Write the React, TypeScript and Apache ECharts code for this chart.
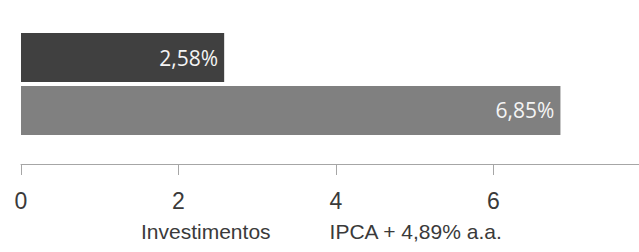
import React, { useEffect, useRef } from "react";
import * as echarts from "echarts";

const categories = ["Rentabilidade"];
const seriesNames = ["Investimentos", "IPCA + 4,89% a.a."];
const investimentos = [2.58];
const ipca = [6.85];
const xTicks = [0, 2, 4, 6, 8];

const fmt = (v: number) => v.toFixed(2).replace(".", ",") + "%";

export default function App() {
  const ref = useRef<HTMLDivElement>(null);
  useEffect(() => {
    document.body.style.overflow = "hidden";
    if (!ref.current) return;
    const chart = echarts.init(ref.current, null, { renderer: "svg" });
    const label = {
      show: true,
      position: "insideRight",
      distance: 6,
      color: "#f4f4f4",
      fontFamily: "Open Sans, Noto Sans, sans-serif",
      fontSize: 21,
      formatter: (p: any) => fmt(p.value),
    };
    chart.setOption({
      animation: false,
      grid: { left: 21, right: 9, top: 4, bottom: 88, containLabel: false },
      legend: {
        bottom: 5,
        left: 131,
        icon: "rect",
        itemWidth: 0,
        itemHeight: 0,
        itemGap: 54,
        textStyle: { fontFamily: "Liberation Sans, Arial, sans-serif", fontSize: 21, color: "#3a3a3a" },
        data: seriesNames,
      },
      xAxis: {
        type: "value",
        min: xTicks[0],
        max: xTicks[xTicks.length - 1],
        interval: 2,
        splitLine: { show: false },
        axisLine: { show: true, lineStyle: { color: "#a6a6a6", width: 1 } },
        axisTick: { show: true, length: 11, lineStyle: { color: "#a6a6a6" } },
        axisLabel: {
          margin: 25,
          showMaxLabel: false,
          color: "#3a3a3a",
          fontFamily: "Liberation Sans, Arial, sans-serif",
          fontSize: 23,
        },
      },
      yAxis: {
        type: "category",
        data: categories,
        inverse: true,
        axisLine: { show: false },
        axisTick: { show: false },
        axisLabel: { show: false },
      },
      series: [
        {
          name: seriesNames[0],
          type: "bar",
          data: investimentos,
          barWidth: 49,
          barGap: "8%",
          itemStyle: { color: "#404040" },
          label,
        },
        {
          name: seriesNames[1],
          type: "bar",
          data: ipca,
          barWidth: 49,
          barGap: "8%",
          itemStyle: { color: "#808080" },
          label,
        },
      ],
    });
    return () => chart.dispose();
  }, []);
  return (
    <div
      ref={ref}
      style={{ position: "fixed", left: 0, top: 0, width: 660, height: 252, background: "#fff" }}
    />
  );
}
